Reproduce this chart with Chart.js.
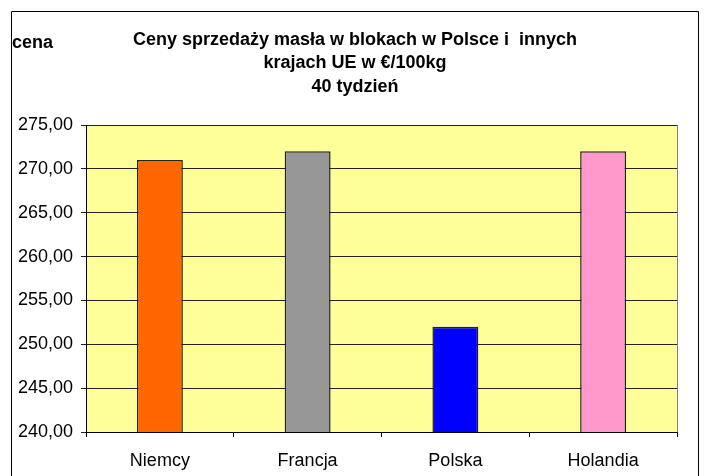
<!DOCTYPE html>
<html>
<head>
<meta charset="utf-8">
<script src="https://cdn.jsdelivr.net/npm/chart.js@4/dist/chart.umd.min.js"></script>
<style>
html,body{margin:0;padding:0;background:#fff;}
canvas{display:block;}
</style>
</head>
<body>
<canvas id="c" width="706" height="476"></canvas>
<script>
const categories = ["Niemcy", "Francja", "Polska", "Holandia"];
const prices = [271.0, 272.0, 252.0, 272.0];
const yTicks = [240, 245, 250, 255, 260, 265, 270, 275];
const titleLines = ["Ceny sprzedaży masła w blokach w Polsce i  innych", "krajach UE w €/100kg", "40 tydzień"];
const axisLabel = "cena";
const barColors = ["#FF6600", "#969696", "#0000FF", "#FF99CC"];

const FONT = "'Liberation Sans', Arial, sans-serif";

const deco = {
  id: 'deco',
  beforeDraw(chart) {
    const {ctx, chartArea: a} = chart;
    ctx.save();
    ctx.fillStyle = '#FFFF99';
    ctx.fillRect(a.left, a.top, a.right - a.left, a.bottom - a.top);
    ctx.restore();
  },
  afterDraw(chart) {
    const {ctx, chartArea: a} = chart;
    ctx.save();
    ctx.strokeStyle = '#808080';
    ctx.lineWidth = 1;
    ctx.beginPath();
    ctx.moveTo(a.right + 0.5, a.top);
    ctx.lineTo(a.right + 0.5, a.bottom);
    ctx.stroke();
    ctx.strokeStyle = '#000';
    ctx.beginPath();
    ctx.moveTo(11.5, 490);
    ctx.lineTo(11.5, 11.5);
    ctx.lineTo(698.5, 11.5);
    ctx.lineTo(698.5, 490);
    ctx.stroke();
    ctx.fillStyle = '#000';
    ctx.font = "bold 18px " + FONT;
    ctx.textAlign = 'center';
    ctx.textBaseline = 'middle';
    const ys = [40, 63.5, 87];
    titleLines.forEach((t, i) => ctx.fillText(t, 355, ys[i]));
    ctx.textAlign = 'left';
    ctx.fillText(axisLabel, 12, 43);
    ctx.restore();
  }
};

new Chart(document.getElementById('c'), {
  type: 'bar',
  data: {
    labels: categories,
    datasets: [{
      data: prices,
      backgroundColor: barColors,
      borderColor: '#222',
      borderWidth: 1.5,
      borderSkipped: false,
      categoryPercentage: 1,
      barPercentage: 0.311
    }]
  },
  options: {
    responsive: false,
    animation: false,
    devicePixelRatio: 1,
    layout: {padding: {top: 125, right: 29, left: 0, bottom: 0}},
    plugins: {legend: {display: false}, title: {display: false}, tooltip: {enabled: false}},
    scales: {
      x: {
        afterFit(s) { s.height = 44; },
        grid: {drawOnChartArea: false, drawTicks: true, tickLength: 5, offset: true, color: '#000'},
        border: {color: '#000', width: 1},
        ticks: {color: '#000', font: {family: FONT, size: 18}, padding: 13}
      },
      y: {
        min: yTicks[0],
        max: yTicks[yTicks.length - 1],
        afterFit(s) { s.width = 86; },
        afterBuildTicks(s) { s.ticks = yTicks.map(v => ({value: v})); },
        grid: {color: '#222', tickLength: 5, drawTicks: true},
        border: {color: '#000', width: 1},
        ticks: {
          color: '#000',
          font: {family: FONT, size: 18},
          padding: 8,
          callback: v => v.toFixed(2).replace('.', ',')
        }
      }
    }
  },
  plugins: [deco]
});
</script>
</body>
</html>
